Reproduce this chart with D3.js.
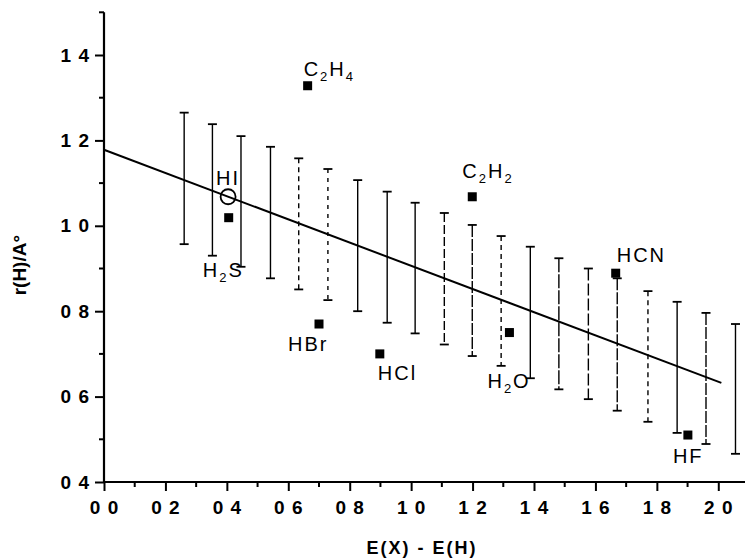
<!DOCTYPE html>
<html>
<head>
<meta charset="utf-8">
<script src="https://cdn.jsdelivr.net/npm/d3@7"></script>
<style>
  html, body { margin: 0; padding: 0; background: #fff; }
  svg { display: block; }
</style>
</head>
<body>
<svg id="chart" width="745" height="558"></svg>
<script>
// Error-bar band along the fitted line: x position, upper and lower limits
const bandX  = [0.261, 0.353, 0.446, 0.542, 0.634, 0.729, 0.826, 0.922, 1.013, 1.108,
                1.199, 1.293, 1.388, 1.481, 1.577, 1.671, 1.771, 1.866, 1.960, 2.056];
const bandHi = [1.265, 1.238, 1.210, 1.185, 1.158, 1.133, 1.107, 1.080, 1.054, 1.030,
                1.002, 0.976, 0.951, 0.924, 0.900, 0.877, 0.847, 0.822, 0.796, 0.770];
const bandLo = [0.957, 0.930, 0.904, 0.877, 0.851, 0.826, 0.800, 0.773, 0.748, 0.722,
                0.695, 0.672, 0.643, 0.617, 0.594, 0.567, 0.541, 0.515, 0.489, 0.466];

// Fitted line end points
const fitX = [0.0, 2.01];
const fitY = [1.178, 0.632];

// Molecules: E(X) - E(H) and r(H)
const molecules = ["C2H4", "HI", "H2S", "C2H2", "HBr", "HCl", "H2O", "HCN", "HF"];
const molX = [0.663, 0.404, 0.406, 1.199, 0.700, 0.898, 1.320, 1.666, 1.901];
const molY = [1.328, 1.068, 1.019, 1.068, 0.770, 0.700, 0.750, 0.889, 0.510];
const molMark = ["square", "circle", "square", "square", "square", "square", "square", "square", "square"];

// Axis ticks and their printed labels
const xTicks = [0.0, 0.2, 0.4, 0.6, 0.8, 1.0, 1.2, 1.4, 1.6, 1.8, 2.0];
const xTickLabels = ["0 0", "0 2", "0 4", "0 6", "0 8", "1 0", "1 2", "1 4", "1 6", "1 8", "2 0"];
const xMinor = [0.1, 0.3, 0.5, 0.7, 0.9, 1.1, 1.3, 1.5, 1.7, 1.9];
const yTicks = [0.4, 0.6, 0.8, 1.0, 1.2, 1.4];
const yTickLabels = ["0 4", "0 6", "0 8", "1 0", "1 2", "1 4"];
const yMinor = [0.5, 0.7, 0.9, 1.1, 1.3, 1.5];

// Stroke pattern of each error bar (print is broken on some of them)
const barDash = [null, null, null, null, "5,4", "4,5", null, null, null, "9,3",
                 "12,2", "5,4", null, "14,2", "12,3", "12,2", "5,4", null, "12,2", null];

// Label placement relative to each marker (px)
const labelDx = [-4, -12, -26, -10, -31, -2, -22, 1, -15];
const labelDy = [-10, -12, 59, -19, 27, 26, 55, -11, 28];

const svg = d3.select("#chart");
const font = "'Liberation Sans', Arial, Helvetica, sans-serif";

const x = d3.scaleLinear().domain([0, 2.1]).range([104, 749]);
const y = d3.scaleLinear().domain([0.4, 1.5]).range([482, 12.3]);

// Axes
const xAxis = d3.axisBottom(x).tickValues(xTicks).tickSize(9).tickPadding(6)
  .tickFormat((d, i) => xTickLabels[i]);
const yAxis = d3.axisLeft(y).tickValues(yTicks).tickSize(9).tickPadding(5)
  .tickFormat((d, i) => yTickLabels[i]);

const gx = svg.append("g").attr("transform", `translate(0,${y(0.4)})`).call(xAxis);
const gy = svg.append("g").attr("transform", `translate(${x(0)},0)`).call(yAxis);

[gx, gy].forEach(g => {
  g.select(".domain").attr("stroke", "#000").attr("stroke-width", 2.2);
  g.selectAll(".tick line").attr("stroke", "#000").attr("stroke-width", 2);
  g.selectAll(".tick text").attr("fill", "#000")
    .style("font-family", font).style("font-size", "19px").style("font-weight", "bold")
    .style("letter-spacing", "1px");
});
gx.select(".domain").attr("d", `M${x(0)},0H745`);
gy.select(".domain").attr("d", `M0,${y(1.5)}V${y(0.4)}`);
gx.selectAll(".tick text").attr("dy", "0.92em");

// Minor ticks
gx.selectAll(".minor").data(xMinor).join("line")
  .attr("x1", d => x(d)).attr("x2", d => x(d))
  .attr("y1", 0).attr("y2", 5).attr("stroke", "#000").attr("stroke-width", 2);
gy.selectAll(".minor").data(yMinor).join("line")
  .attr("y1", d => y(d)).attr("y2", d => y(d))
  .attr("x1", 0).attr("x2", -5).attr("stroke", "#000").attr("stroke-width", 2);

// Axis titles
svg.append("text")
  .attr("x", 422).attr("y", 554).attr("text-anchor", "middle")
  .style("font-family", font).style("font-size", "18px").style("font-weight", "bold")
  .style("letter-spacing", "2px")
  .text("E(X) - E(H)");
svg.append("text")
  .attr("transform", `translate(26,${(y(0.4) + y(1.5)) / 2 + 18}) rotate(-90)`)
  .attr("text-anchor", "middle")
  .style("font-family", font).style("font-size", "19px").style("font-weight", "bold")
  .text("r(H)/A°");

// Fitted line
svg.append("line")
  .attr("x1", x(fitX[0])).attr("y1", y(fitY[0]))
  .attr("x2", x(fitX[1])).attr("y2", y(fitY[1]))
  .attr("stroke", "#000").attr("stroke-width", 2);

// Error bars
const bars = svg.append("g").attr("stroke", "#000").attr("stroke-width", 1.4);
bandX.forEach((bx, i) => {
  const cx = x(bx);
  bars.append("line")
    .attr("x1", cx).attr("x2", cx).attr("y1", y(bandHi[i])).attr("y2", y(bandLo[i]))
    .attr("stroke-dasharray", barDash[i]);
  [bandHi[i], bandLo[i]].forEach(v => {
    bars.append("line")
      .attr("x1", cx - 4.5).attr("x2", cx + 4.5).attr("y1", y(v)).attr("y2", y(v))
      .attr("stroke-width", 1.8);
  });
});

// Markers
const marks = svg.append("g");
molecules.forEach((m, i) => {
  const px = x(molX[i]), py = y(molY[i]);
  if (molMark[i] === "circle") {
    marks.append("circle").attr("cx", px).attr("cy", py).attr("r", 7.5)
      .attr("fill", "none").attr("stroke", "#000").attr("stroke-width", 1.8);
  } else {
    marks.append("rect").attr("x", px - 4.5).attr("y", py - 4.5)
      .attr("width", 9).attr("height", 9).attr("fill", "#000");
  }
});

// Molecule labels with subscript digits
molecules.forEach((m, i) => {
  const t = svg.append("text")
    .attr("x", x(molX[i]) + labelDx[i]).attr("y", y(molY[i]) + labelDy[i])
    .style("font-family", font).style("font-size", "20px")
    .style("letter-spacing", "2px").attr("fill", "#000");
  const parts = m.match(/[A-Za-z]+|\d+/g);
  let shifted = false;
  parts.forEach(p => {
    const isSub = /\d/.test(p);
    const ts = t.append("tspan").text(p);
    if (isSub && !shifted) { ts.attr("dy", 5).style("font-size", "13px"); shifted = true; }
    else if (isSub) { ts.attr("dy", 0).style("font-size", "13px"); }
    else if (shifted) { ts.attr("dy", -5); shifted = false; }
  });
});
</script>
</body>
</html>
